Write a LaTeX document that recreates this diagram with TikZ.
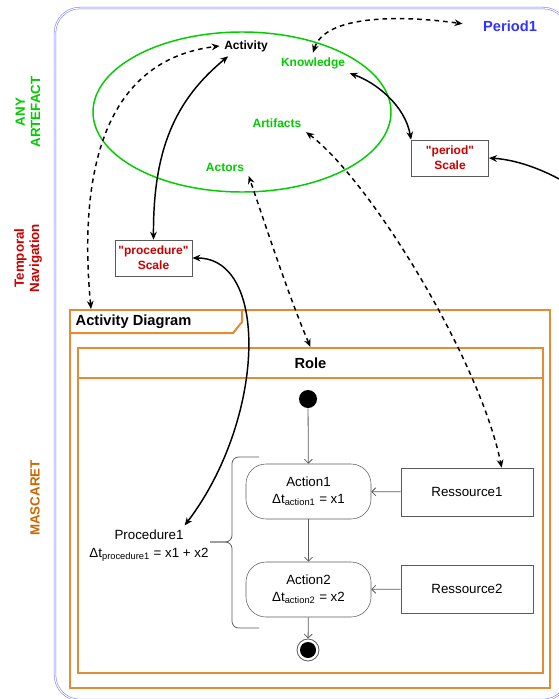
\documentclass[tikz,border=0pt]{standalone}
\usepackage{fontspec}
\setmainfont{Liberation Sans}
\usetikzlibrary{arrows.meta,calc}
\definecolor{anygreen}{RGB}{0,204,0}
\definecolor{navred}{RGB}{204,0,0}
\definecolor{mascorange}{RGB}{204,102,0}
\definecolor{frameorange}{RGB}{226,141,52}
\definecolor{outerblue}{RGB}{120,120,255}
\definecolor{perblue}{RGB}{51,51,255}
\definecolor{umlgray}{RGB}{90,90,90}
\tikzset{
    lbl/.style={font=\fontsize{9}{11}\selectfont\bfseries},
    greenlbl/.style={lbl,text=anygreen},
    sidelbl/.style={font=\fontsize{10}{11.5}\selectfont\bfseries,rotate=90,align=center},
    scalebox/.style={draw=umlgray,fill=white,lbl,text=navred,align=center,minimum width=58pt,minimum height=27pt,inner sep=1pt},
    frame/.style={draw=frameorange,line width=1.5pt},
    actionbox/.style={draw=umlgray,rounded corners=15pt,minimum width=93.75pt,minimum height=41.25pt,align=center,font=\fontsize{10}{12.75}\selectfont},
    resbox/.style={draw=umlgray,minimum width=99pt,minimum height=36pt,font=\fontsize{10}{12}\selectfont},
    flow/.style={draw=umlgray,line width=0.6pt,-{Straight Barb[length=3pt,width=6pt]}},
    blk/.style={line width=1.1pt},
    dsh/.style={line width=1.1pt,dash pattern=on 3.5pt off 3pt},
    brace/.style={draw=umlgray,line width=0.6pt,rounded corners=5pt}
}
\begin{document}
\begin{tikzpicture}[x=0.75pt,y=-0.75pt,>={Stealth[length=6pt,width=5pt]}]
    \useasboundingbox (0,0) rectangle (558,699);
    \draw [outerblue,line width=0.4pt,double,double distance=0.8pt,rounded corners=18.75pt] (55,8) rectangle (568,700);

    \node (anyart) [sidelbl,text=anygreen] at (28,112) {ANY\\ARTEFACT};
    \node (tempnav) [sidelbl,text=navred] at (28,258) {Temporal\\Navigation};
    \node (masc) [sidelbl,text=mascorange] at (35,498) {MASCARET};

    \draw [anygreen,line width=1.1pt] (242,112) ellipse [x radius=111.75pt,y radius=60pt];
    \node (act) [lbl] at (246,46) {Activity};
    \node (kno) [greenlbl] at (313,63) {Knowledge};
    \node (art) [greenlbl] at (277,123) {Artifacts};
    \node (actr) [greenlbl] at (225,167) {Actors};
    \node (per) [font=\fontsize{11}{13}\selectfont\bfseries,text=perblue] at (510,26) {Period1};
    \node (persc) [scalebox] at (450,158) {\textquotedbl period\textquotedbl\\Scale};
    \node (procsc) [scalebox] at (153.5,258) {\textquotedbl procedure\textquotedbl\\Scale};
    \coordinate (offr) at (578,190);

    \draw [frame] (70,310) rectangle (550,688);
    \draw [frame] (70,333) -- (233,333) -- (242,322) -- (242,310);
    \node (adt) [anchor=west,font=\fontsize{11}{13}\selectfont\bfseries] at (71,322) {Activity Diagram};
    \coordinate (adtop) at (91,309);
    \draw [frame] (78,348) rectangle (543,673);
    \node (role) [frame,minimum width=348.75pt,minimum height=22.5pt,font=\fontsize{11}{13}\selectfont\bfseries] at (310.5,363) {Role};

    \node (init) [circle,fill=black,minimum size=13.5pt,inner sep=0pt] at (308,399) {};
    \node (act1) [actionbox] at (308.5,491.5) {Action1\\Δt\textsubscript{action1} = x1};
    \node (act2) [actionbox] at (308.5,589.5) {Action2\\Δt\textsubscript{action2} = x2};
    \node (fin) [circle,draw=umlgray,line width=0.6pt,minimum size=16.5pt,inner sep=0pt] at (308,650) {};
    \fill (fin.center) circle (6pt);
    \node (res1) [resbox] at (467,492) {Ressource1};
    \node (res2) [resbox] at (467,589) {Ressource2};
    \node (proc) [align=center,font=\fontsize{10}{13.5}\selectfont] at (149,546) {Procedure1\\Δt\textsubscript{procedure1} = x1 + x2};
    \draw [brace] (259,457) -| (232,542) -- (210,542);
    \draw [brace] (259,628) -| (232,542) -- (210,542);

    \draw [flow] (init) -- (act1);
    \draw [flow] (act1) -- (act2);
    \draw [flow] (act2) -- (fin);
    \draw [flow] (res1) -- (act1);
    \draw [flow] (res2) -- (act2);

    \draw [<->,blk] (act.-150) .. controls (175,100) and (153,150) .. (procsc.north);
    \draw [<->,blk] (kno.south east) .. controls (375,82) and (405,105) .. (persc.north west);
    \draw [->,blk] (offr) .. controls (550,172) and (520,160) .. (persc.east);
    \draw [<->,blk] (procsc.east) .. controls (270,258) and (265,420) .. (proc.30);
    \draw [<->,dsh] (adtop) .. controls (78,170) and (105,60) .. (act.west);
    \draw [<->,dsh,shorten >=12pt] (kno.north) .. controls (325,15) and (400,15) .. (per.west);
    \draw [<->,dsh] (role.north) .. controls (290,300) and (262,215) .. (actr.south east);
    \draw [<->,dsh] (art.south east) .. controls (370,180) and (480,360) .. (res1.35);
\end{tikzpicture}
\end{document}
